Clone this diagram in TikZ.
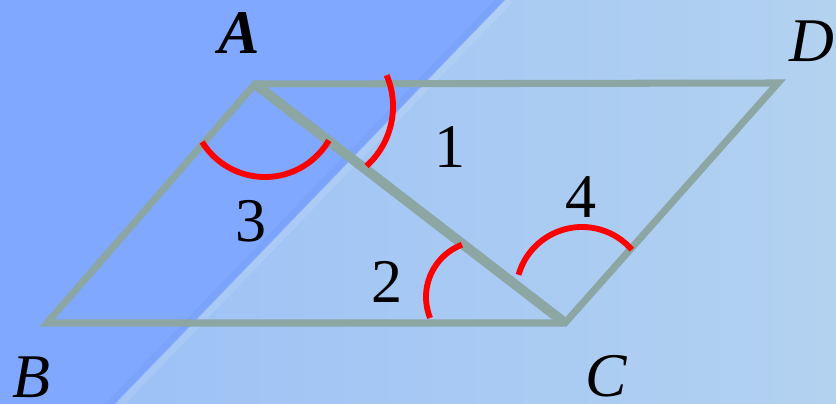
\documentclass[tikz,border=0pt]{standalone}
\usepackage{fontspec}
\setmainfont{Liberation Serif}
\definecolor{bgdark}{HTML}{80A8FE}
\definecolor{bgedge}{HTML}{779FF8}
\definecolor{bglight}{HTML}{9DC1F6}
\definecolor{bgpale}{HTML}{B3D2F0}
\definecolor{edge}{HTML}{8CA6A4}
\definecolor{arcred}{HTML}{FF0000}

\begin{document}
\begin{tikzpicture}[x=0.03cm, y=0.03cm,
    every node/.style={font=\fontsize{53}{60}\selectfont, inner sep=0pt},
    vlab/.style={font=\fontsize{53}{60}\selectfont\itshape},
    side/.style={edge, line width=6pt, line join=miter},
    diag/.style={edge, line width=8.5pt},
    angarc/.style={arcred, line width=5pt},
]
\useasboundingbox (0,0) rectangle (836,404);
\clip (0,0) rectangle (836,404);

% background, two tones split by a slanted edge
\shade[left color=bglight, right color=bgpale] (110,0) rectangle (836,404);
\fill[bgdark] (-10,0) rectangle (110,404);
\fill[bgdark] (0,0) -- (115,0) -- (505,404) -- (0,404) -- cycle;
\draw[bgedge, opacity=0.5, line width=5pt] (109,0) -- (499,404);
\draw[white, opacity=0.10, line width=6pt] (120,0) -- (510,404);

% the parallelogram and its diagonal
\coordinate (B) at (47,81);
\coordinate (A) at (255,320);
\coordinate (D) at (778,321);
\coordinate (C) at (565,81);
\draw[side] (B) -- (A) -- (D) -- (C) -- cycle;
\draw[diag] (A) -- (C);

% angle marks
\draw[angarc] (265,301) ++(211.8:74) arc[start angle=211.8, end angle=329.6, radius=74];
\draw[angarc] (313,297.5) ++(23:80) arc[start angle=23, end angle=-48, radius=80];
\draw[angarc] (482,107) ++(111:56) arc[start angle=111, end angle=202, radius=56];
\draw[angarc] (582,111) ++(164:66) arc[start angle=164, end angle=41, radius=66];

% vertex names
\node[vlab] (lA) at (239,371) {\bfseries A};
\node[vlab] (lB) at (31,27) {B};
\node[vlab] (lC) at (606,28) {C};
\node[vlab] (lD) at (812,363) {D};

% angle numbers
\foreach \n/\p in {1/{450,257}, 2/{387,122}, 3/{251,183}, 4/{581,207}}{
    \node (n\n) at (\p) {\n};
}
\end{tikzpicture}
\end{document}
